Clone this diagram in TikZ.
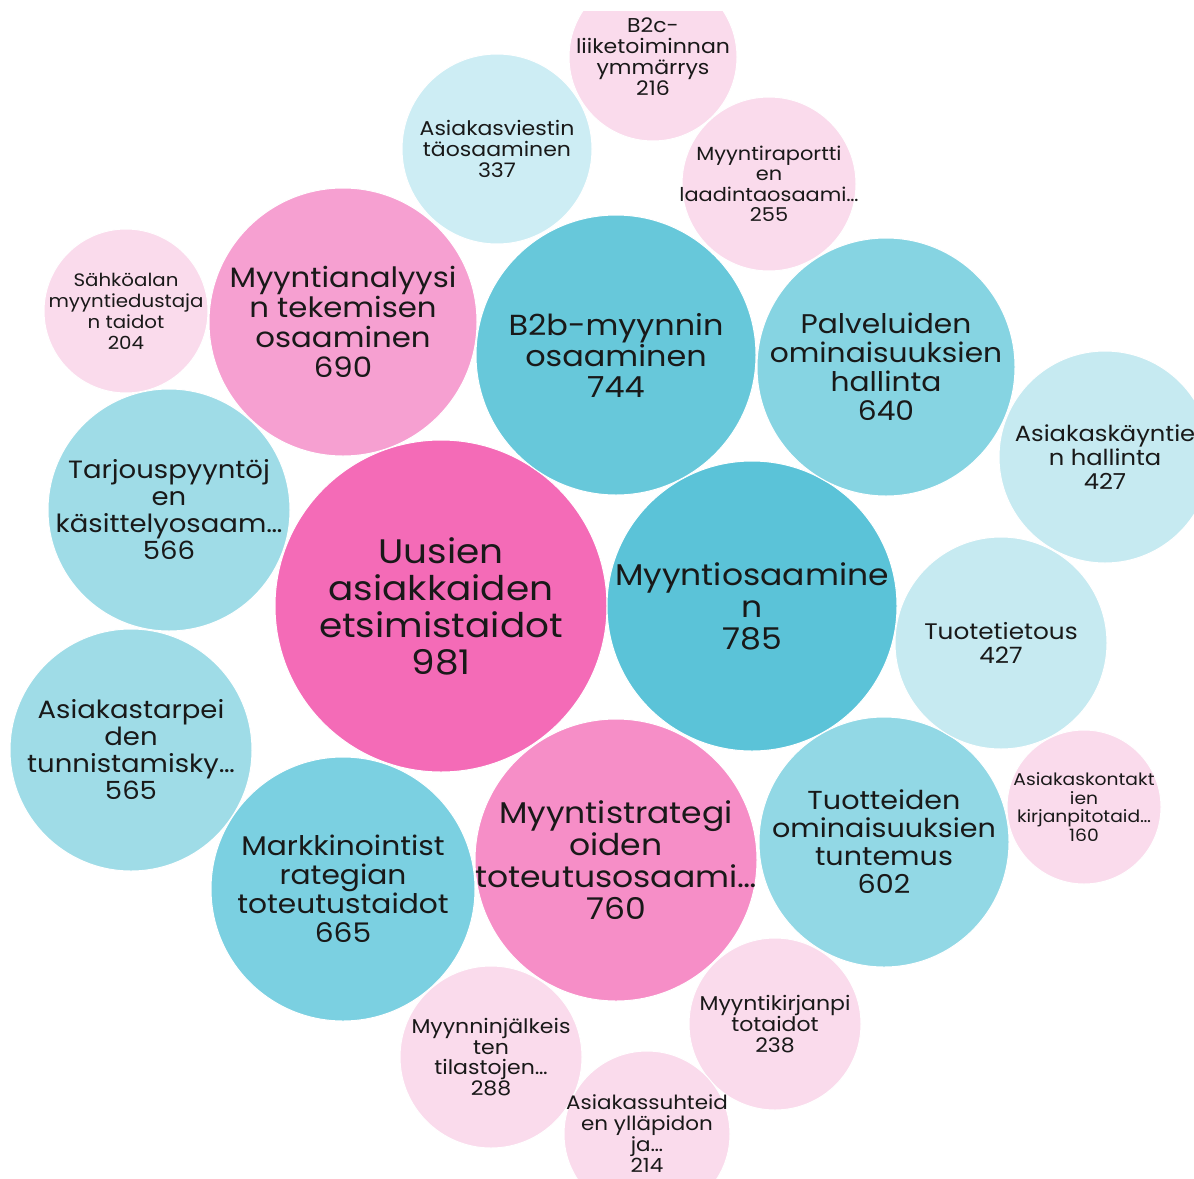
\documentclass[tikz,border=0pt]{standalone}
\usepackage{fontspec}
\setmainfont[FakeStretch=1.1]{Poppins}
\newcommand\fsz[2]{\fontsize{#1}{#2}\selectfont}
\definecolor{cA}{HTML}{F46BB7}
\definecolor{cB}{HTML}{F68EC7}
\definecolor{cC}{HTML}{F6A0D1}
\definecolor{cL}{HTML}{FADBEC}
\definecolor{b1}{HTML}{5BC3D8}
\definecolor{b2}{HTML}{67C8DA}
\definecolor{b3}{HTML}{7BD0E1}
\definecolor{b4}{HTML}{86D4E2}
\definecolor{b5}{HTML}{92D8E5}
\definecolor{b6}{HTML}{9FDCE7}
\definecolor{b7}{HTML}{C6EAF1}
\definecolor{b8}{HTML}{CDEDF4}
\begin{document}
\begin{tikzpicture}[x=1pt,y=-1pt,
  bub/.style={circle, inner sep=0pt, draw=white, line width=1pt},
  lbl/.style={inner sep=0pt, align=center, text=black!90}]
\useasboundingbox (0,0) rectangle (1194,1178);
\clip (0,11) rectangle (1194,1178);
\node[bub, fill=cA, minimum size=332pt] (n1) at (441,606) {};
\node[lbl, font=\fsz{34}{37}] (t1) at (n1.center) {Uusien\\asiakkaiden\\etsimistaidot\\981};
\node[bub, fill=b1, minimum size=290pt] (n2) at (752,606) {};
\node[lbl, font=\fsz{30}{32}] (t2) at (n2.center) {Myyntiosaamine\\n\\785};
\node[bub, fill=b2, minimum size=280pt] (n3) at (616,355) {};
\node[lbl, font=\fsz{29}{31}] (t3) at (n3.center) {B2b-myynnin\\osaaminen\\744};
\node[bub, fill=cB, minimum size=282pt] (n4) at (616,860) {};
\node[lbl, font=\fsz{30}{32}] (t4) at (n4.center) {Myyntistrategi\\oiden\\toteutusosaami…\\760};
\node[bub, fill=cC, minimum size=268pt] (n5) at (343,322) {};
\node[lbl, font=\fsz{28}{30}] (t5) at (n5.center) {Myyntianalyysi\\n tekemisen\\osaaminen\\690};
\node[bub, fill=b4, minimum size=258pt] (n6) at (886,367) {};
\node[lbl, font=\fsz{27}{29}] (t6) at (n6.center) {Palveluiden\\ominaisuuksien\\hallinta\\640};
\node[bub, fill=b3, minimum size=264pt] (n7) at (343,889) {};
\node[lbl, font=\fsz{27}{29}] (t7) at (n7.center) {Markkinointist\\rategian\\toteutustaidot\\665};
\node[bub, fill=b5, minimum size=250pt] (n8) at (884,842) {};
\node[lbl, font=\fsz{26}{28}] (t8) at (n8.center) {Tuotteiden\\ominaisuuksien\\tuntemus\\602};
\node[bub, fill=b6, minimum size=242pt] (n9) at (169,510) {};
\node[lbl, font=\fsz{25}{27}] (t9) at (n9.center) {Tarjouspyyntöj\\en\\käsittelyosaam…\\566};
\node[bub, fill=b6, minimum size=242pt] (n10) at (131,750) {};
\node[lbl, font=\fsz{25}{27}] (t10) at (n10.center) {Asiakastarpei\\den\\tunnistamisky…\\565};
\node[bub, fill=b7, minimum size=212pt] (n11) at (1001,643) {};
\node[lbl, font=\fsz{22.5}{24.5}] (t11) at (n11.center) {Tuotetietous\\427};
\node[bub, fill=b7, minimum size=212pt] (n12) at (1105,457) {};
\node[lbl, font=\fsz{22}{24}] (t12) at (n12.center) {Asiakaskäyntie\\n hallinta\\427};
\node[bub, fill=b8, minimum size=190pt] (n13) at (497,149) {};
\node[lbl, font=\fsz{20}{21}] (t13) at (n13.center) {Asiakasviestin\\täosaaminen\\337};
\node[bub, fill=cL, minimum size=174pt] (n14) at (769,184) {};
\node[lbl, font=\fsz{19}{20.5}] (t14) at (n14.center) {Myyntiraportti\\en\\laadintaosaami…\\255};
\node[bub, fill=cL, minimum size=168pt] (n15) at (653,57) {};
\node[lbl, font=\fsz{20}{21}] (t15) at (n15.center) {B2c-\\liiketoiminnan\\ymmärrys\\216};
\node[bub, fill=cL, minimum size=164pt] (n16) at (126,311) {};
\node[lbl, font=\fsz{18}{21}] (t16) at (n16.center) {Sähköalan\\myyntiedustaja\\n taidot\\204};
\node[bub, fill=cL, minimum size=154pt] (n17) at (1084,807) {};
\node[lbl, font=\fsz{17}{18.5}] (t17) at (n17.center) {Asiakaskontakt\\ien\\kirjanpitotaid…\\160};
\node[bub, fill=cL, minimum size=172pt] (n18) at (775,1024) {};
\node[lbl, font=\fsz{20}{21}] (t18) at (n18.center) {Myyntikirjanpi\\totaidot\\238};
\node[bub, fill=cL, minimum size=182pt] (n19) at (491,1057) {};
\node[lbl, font=\fsz{20}{20.7}] (t19) at (n19.center) {Myynninjälkeis\\ten\\tilastojen…\\288};
\node[bub, fill=cL, minimum size=166pt] (n20) at (647,1134) {};
\node[lbl, font=\fsz{19.5}{21}] (t20) at (n20.center) {Asiakassuhteid\\en ylläpidon\\ja…\\214};
\end{tikzpicture}
\end{document}
